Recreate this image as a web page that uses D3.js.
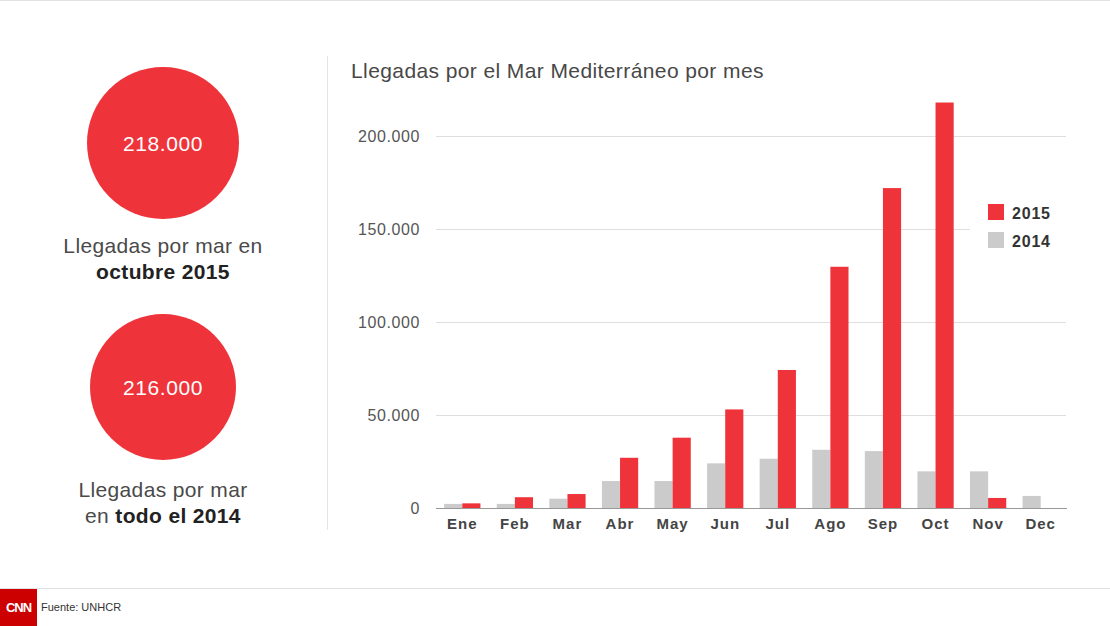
<!DOCTYPE html>
<html>
<head>
<meta charset="utf-8">
<script src="https://cdn.jsdelivr.net/npm/d3@7"></script>
<style>
  html, body { margin: 0; padding: 0; background: #fff; }
  svg { display: block; font-family: "Liberation Sans", Arial, Helvetica, sans-serif; }
</style>
</head>
<body>
<svg id="chart" width="1110" height="626"></svg>
<script>
// ---- Data ----
const months = ["Ene","Feb","Mar","Abr","May","Jun","Jul","Ago","Sep","Oct","Nov","Dec"];
const values2014 = [2200, 2200, 5000, 14500, 14500, 24000, 26500, 31300, 30600, 19700, 19700, 6500];
const values2015 = [2500, 5800, 7500, 27000, 37800, 53000, 74200, 129700, 172000, 218000, 5400, null];
const seriesNames = ["2014", "2015"];
const yTicks = [0, 50000, 100000, 150000, 200000];
const bigNumbers = ["218.000", "216.000"];
const title = "Llegadas por el Mar Mediterráneo por mes";
const source = "Fuente: UNHCR";

const RED = "#ee343a", GRAY = "#cbcbcb";
const colors = { "2014": GRAY, "2015": RED };

const svg = d3.select("#chart");
const es = d3.formatLocale({ decimal: ",", thousands: ".", grouping: [3], currency: ["", "€"] });
const fmt = es.format(",d");

// Frame lines
svg.append("line").attr("x1", 0).attr("x2", 1110).attr("y1", 0.5).attr("y2", 0.5).attr("stroke", "#e2e2e2");
svg.append("line").attr("x1", 0).attr("x2", 1110).attr("y1", 588.5).attr("y2", 588.5).attr("stroke", "#e2e2e2");
svg.append("line").attr("x1", 327.5).attr("x2", 327.5).attr("y1", 56).attr("y2", 530).attr("stroke", "#e4e4e4");

// ---- Left panel: big numbers ----
const circles = [
  { cx: 163, cy: 143, r: 76, lines: [[{t: "Llegadas por mar en", b: false}], [{t: "octubre 2015", b: true}]], ly: 253 },
  { cx: 163, cy: 387, r: 73, lines: [[{t: "Llegadas por mar", b: false}], [{t: "en ", b: false}, {t: "todo el 2014", b: true}]], ly: 497 }
];
circles.forEach((c, i) => {
  svg.append("circle").attr("cx", c.cx).attr("cy", c.cy).attr("r", c.r).attr("fill", RED);
  svg.append("text").attr("x", c.cx).attr("y", c.cy + 8).attr("text-anchor", "middle")
    .attr("fill", "#fff").attr("font-size", 21).attr("letter-spacing", "0.6px").text(bigNumbers[i]);
  c.lines.forEach((parts, j) => {
    const t = svg.append("text").attr("x", c.cx).attr("y", c.ly + j * 26)
      .attr("text-anchor", "middle").attr("font-size", 21).attr("letter-spacing", "0.35px").attr("fill", "#3a3a3a");
    parts.forEach(p => t.append("tspan").attr("font-weight", p.b ? "bold" : "normal")
      .attr("fill", p.b ? "#222" : "#4a4a4a").text(p.t));
  });
});

// ---- Chart ----
svg.append("text").attr("x", 351).attr("y", 78).attr("font-size", 21).attr("letter-spacing", "0.4px")
  .attr("fill", "#484848").text(title);

const x = d3.scaleBand().domain(months).range([436, 1067]).paddingInner(0.31).paddingOuter(0.155);
const xs = d3.scaleBand().domain(seriesNames).range([0, x.bandwidth()]);
const y = d3.scaleLinear().domain([0, 200000]).range([508, 136]);

const yAxis = svg.append("g").attr("transform", "translate(436,0)")
  .call(d3.axisLeft(y).tickValues(yTicks).tickFormat(fmt).tickSize(-630).tickPadding(16));
yAxis.select(".domain").remove();
yAxis.selectAll(".tick line").attr("stroke", "#dedede");
yAxis.selectAll(".tick text").attr("font-size", 16).attr("letter-spacing", "0.6px")
  .attr("fill", "#555").attr("font-family", "inherit");

// Bars
const data = months.map((m, i) => ({ m, v: { "2014": values2014[i], "2015": values2015[i] } }));
const groups = svg.append("g").selectAll("g").data(data).join("g")
  .attr("transform", d => `translate(${x(d.m)},0)`);
groups.selectAll("rect").data(d => seriesNames.filter(s => d.v[s] != null).map(s => ({ s, v: d.v[s] })))
  .join("rect")
  .attr("x", d => xs(d.s)).attr("width", xs.bandwidth())
  .attr("y", d => y(d.v)).attr("height", d => y(0) - y(d.v))
  .attr("fill", d => colors[d.s]);

// X axis
const xAxis = svg.append("g").attr("transform", "translate(0,508)")
  .call(d3.axisBottom(x).tickSize(0).tickPadding(10));
xAxis.select(".domain").attr("stroke", "#999").attr("d", "M436,0.5H1067");
xAxis.selectAll(".tick text").attr("font-size", 15).attr("font-weight", "bold")
  .attr("fill", "#444").attr("font-family", "inherit").attr("letter-spacing", "1px");

// Legend
const legend = svg.append("g").attr("transform", "translate(970,196)");
legend.append("rect").attr("x", 0).attr("y", 0).attr("width", 97).attr("height", 60).attr("fill", "#fff");
["2015", "2014"].forEach((s, i) => {
  legend.append("rect").attr("x", 18).attr("y", 8 + i * 28).attr("width", 16).attr("height", 16).attr("fill", colors[s]);
  legend.append("text").attr("x", 42).attr("y", 23 + i * 28).attr("font-size", 16).attr("font-weight", "bold")
    .attr("letter-spacing", "0.8px").attr("fill", "#333").text(s);
});

// Footer
svg.append("rect").attr("x", 0).attr("y", 589).attr("width", 37).attr("height", 37).attr("fill", "#cc0000");
svg.append("text").attr("x", 18.5).attr("y", 612).attr("text-anchor", "middle").attr("font-size", 13)
  .attr("font-weight", "bold").attr("fill", "#fff").attr("letter-spacing", "-1px").text("CNN");
svg.append("text").attr("x", 41).attr("y", 611).attr("font-size", 11).attr("fill", "#333").text(source);
</script>
</body>
</html>
